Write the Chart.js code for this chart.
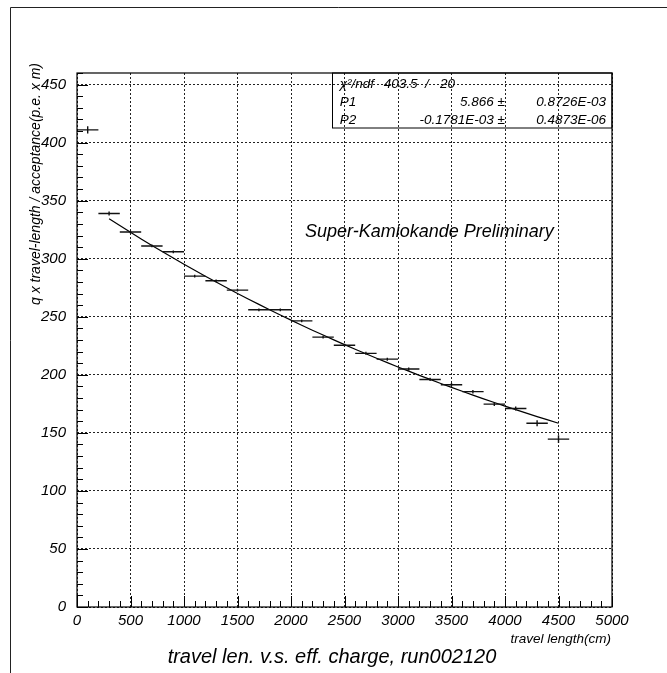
<!DOCTYPE html>
<html>
<head>
<meta charset="utf-8">
<script src="https://cdn.jsdelivr.net/npm/chart.js@4.4.1/dist/chart.umd.min.js"></script>
<style>
  html, body { margin: 0; padding: 0; background: #fff; }
  #wrap { width: 667px; height: 673px; }
</style>
</head>
<body>
<div id="wrap"><canvas id="chart" width="667" height="673"></canvas></div>
<script>
// --- profile data: travel length bins (cm) and mean charge ---
const binCentres = [100, 300, 500, 700, 900, 1100, 1300, 1500, 1700, 1900, 2100, 2300,
                    2500, 2700, 2900, 3100, 3300, 3500, 3700, 3900, 4100, 4300, 4500];
const binHalfWidth = 100;
const meanCharge = [411, 339, 323, 311, 306, 285, 281, 273, 256, 256, 246.5, 232.5,
                    225.5, 218.5, 213.5, 205, 196, 191.5, 185.5, 174.8, 171, 158.3, 144.6];
const chargeErr  = [3.2, 1.8, 1.2, 1.2, 1.2, 1.2, 1.2, 1.2, 1.2, 1.2, 1.2, 1.2,
                    1.2, 1.3, 1.3, 1.4, 1.4, 1.5, 1.5, 1.6, 1.8, 2.6, 3.4];

// --- exponential fit exp(P1 + P2*x) ---
const fitP1 = 5.866, fitP1Err = '0.8726E-03';
const fitP2 = -0.1781e-3, fitP2Err = '0.4873E-06';
const fitRange = [300, 4500];
const chi2 = '403.5', ndf = '20';

// --- axes ---
const xTickValues = [0, 500, 1000, 1500, 2000, 2500, 3000, 3500, 4000, 4500, 5000];
const yTickValues = [0, 50, 100, 150, 200, 250, 300, 350, 400, 450];
const xMinorStep = 100, yMinorStep = 10;

const FONT = '"Liberation Sans", Arial, Helvetica, sans-serif';

const fitPoints = binCentres
  .filter(x => x >= fitRange[0] && x <= fitRange[1])
  .map(x => ({ x: x, y: Math.exp(fitP1 + fitP2 * x) }));

const profilePoints = binCentres.map((x, i) => ({ x: x, y: meanCharge[i] }));

// horizontal bin-width bars + vertical error bars
const errorBars = {
  id: 'errorBars',
  afterDatasetsDraw(chart) {
    const { ctx } = chart;
    const xs = chart.scales.x, ys = chart.scales.y;
    ctx.save();
    ctx.strokeStyle = '#111';
    ctx.lineWidth = 1.4;
    profilePoints.forEach((p, i) => {
      const px = xs.getPixelForValue(p.x);
      const py = ys.getPixelForValue(p.y);
      ctx.beginPath();
      ctx.moveTo(xs.getPixelForValue(p.x - binHalfWidth), py);
      ctx.lineTo(xs.getPixelForValue(p.x + binHalfWidth), py);
      ctx.moveTo(px, ys.getPixelForValue(p.y - chargeErr[i]));
      ctx.lineTo(px, ys.getPixelForValue(p.y + chargeErr[i]));
      ctx.stroke();
    });
    ctx.restore();
  }
};

// frame, inside tick marks, stats box and titles
const decorations = {
  id: 'decorations',
  afterDraw(chart) {
    const { ctx, chartArea: a } = chart;
    const xs = chart.scales.x, ys = chart.scales.y;
    ctx.save();

    // page border
    ctx.strokeStyle = '#222';
    ctx.lineWidth = 1;
    ctx.beginPath();
    ctx.moveTo(10.5, 673);
    ctx.lineTo(10.5, 7.5);
    ctx.lineTo(667, 7.5);
    ctx.stroke();

    // plot frame
    ctx.strokeStyle = '#000';
    ctx.lineWidth = 1.2;
    ctx.strokeRect(a.left, a.top, a.right - a.left, a.bottom - a.top);

    // ticks drawn inward
    ctx.lineWidth = 1;
    ctx.beginPath();
    for (let v = ys.min; v <= ys.max; v += yMinorStep) {
      const py = Math.round(ys.getPixelForValue(v)) + 0.5;
      const len = v % 50 === 0 ? 11 : 6;
      ctx.moveTo(a.left, py);
      ctx.lineTo(a.left + len, py);
    }
    for (let v = xs.min; v <= xs.max; v += xMinorStep) {
      const px = Math.round(xs.getPixelForValue(v)) + 0.5;
      const len = v % 500 === 0 ? 11 : 6;
      ctx.moveTo(px, a.bottom);
      ctx.lineTo(px, a.bottom - len);
    }
    ctx.stroke();

    // stats box
    const bx = xs.getPixelForValue(2380);
    ctx.lineWidth = 1;
    ctx.strokeRect(Math.round(bx) + 0.5, a.top, a.right - Math.round(bx) - 0.5, 55);
    ctx.fillStyle = '#000';
    ctx.font = 'italic 13.5px ' + FONT;
    ctx.textBaseline = 'alphabetic';
    const rows = [88, 106, 124];
    ctx.textAlign = 'left';
    ctx.fillText('\u03C7\u00B2/ndf', bx + 8, rows[0]);
    ctx.fillText(chi2 + '  /   ' + ndf, bx + 52, rows[0]);
    ctx.fillText('P1', bx + 8, rows[1]);
    ctx.fillText('P2', bx + 8, rows[2]);
    ctx.textAlign = 'right';
    ctx.fillText(fitP1.toFixed(3) + ' \u00B1', 505, rows[1]);
    ctx.fillText('-0.1781E-03 \u00B1', 505, rows[2]);
    ctx.fillText(fitP1Err, 606, rows[1]);
    ctx.fillText(fitP2Err, 606, rows[2]);

    // label inside the plot
    ctx.textAlign = 'left';
    ctx.font = 'italic 18px ' + FONT;
    ctx.fillText('Super-Kamiokande Preliminary', 305, 237);

    // axis titles
    ctx.font = 'italic 13.5px ' + FONT;
    ctx.textAlign = 'right';
    ctx.fillText('travel length(cm)', 611, 643);

    ctx.save();
    ctx.translate(40, 63);
    ctx.rotate(-Math.PI / 2);
    ctx.font = 'italic 14px ' + FONT;
    ctx.textAlign = 'right';
    ctx.fillText('q x travel-length / acceptance(p.e. x m)', 0, 0);
    ctx.restore();

    // title
    ctx.font = 'italic 20px ' + FONT;
    ctx.textAlign = 'center';
    ctx.fillText('travel len. v.s. eff. charge, run002120', 332, 663);

    ctx.restore();
  }
};

const tickFont = { family: FONT, size: 15, style: 'italic' };

new Chart(document.getElementById('chart'), {
  type: 'scatter',
  data: {
    datasets: [
      {
        label: 'profile',
        data: profilePoints,
        pointRadius: 0,
        showLine: false
      },
      {
        label: 'fit',
        data: fitPoints,
        showLine: true,
        borderColor: '#000',
        borderWidth: 1.2,
        pointRadius: 0,
        tension: 0.3
      }
    ]
  },
  options: {
    responsive: false,
    animation: false,
    events: [],
    layout: { padding: { left: 0, top: 73, right: 55, bottom: 0 } },
    plugins: {
      legend: { display: false },
      tooltip: { enabled: false }
    },
    scales: {
      x: {
        type: 'linear',
        min: 0,
        max: 5000,
        afterBuildTicks: s => { s.ticks = xTickValues.map(v => ({ value: v })); },
        afterFit: s => { s.height = 66; s.paddingLeft = 0; s.paddingRight = 0; },
        grid: { color: '#222', lineWidth: 1, drawTicks: false },
        border: { display: false, dash: [2, 2] },
        ticks: {
          color: '#000', font: tickFont, padding: 5, maxRotation: 0, autoSkip: false,
          callback: v => String(v)
        }
      },
      y: {
        type: 'linear',
        min: 0,
        max: 460,
        afterBuildTicks: s => { s.ticks = yTickValues.map(v => ({ value: v })); },
        afterFit: s => { s.width = 77; s.paddingTop = 0; s.paddingBottom = 0; },
        grid: { color: '#222', lineWidth: 1, drawTicks: false },
        border: { display: false, dash: [2, 2] },
        ticks: {
          color: '#000', font: tickFont, padding: 11, autoSkip: false,
          callback: v => String(v)
        }
      }
    }
  },
  plugins: [errorBars, decorations]
});
</script>
</body>
</html>
